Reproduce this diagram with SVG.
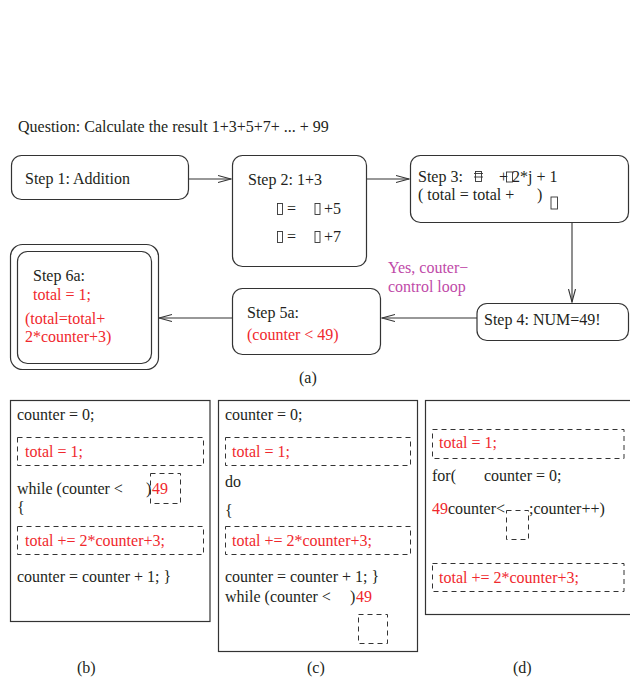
<svg xmlns="http://www.w3.org/2000/svg" width="630" height="679" viewBox="0 0 630 679">
  <style>
    text { font-family: "Liberation Serif", "Times New Roman", serif; font-size: 16px; fill: #231f20; }
    .red { fill: #f0282d; }
    .mag { fill: #c04aa8; }
    .box { fill: #fff; stroke: #333; stroke-width: 1.2; }
    .panel { fill: none; stroke: #333; stroke-width: 1.2; }
    .dash { fill: none; stroke: #333; stroke-width: 1; stroke-dasharray: 5 4; }
    .tofu { fill: none; stroke: #333; stroke-width: 0.9; }
    .conn { fill: none; stroke: #333; stroke-width: 1.1; }
  </style>
  <defs>
    <marker id="open" markerUnits="userSpaceOnUse" viewBox="0 0 14 10" markerWidth="14" markerHeight="10" refX="13" refY="5" orient="auto">
      <path d="M0,1.5 L13,5 L0,8.5" fill="none" stroke="#333" stroke-width="1.1"/>
    </marker>
  </defs>

  <rect width="630" height="679" fill="#fff"/>

  <text x="18" y="132">Question: Calculate the result 1+3+5+7+ ... + 99</text>

  <!-- flow connectors -->
  <g id="connectors">
    <line class="conn" x1="188" y1="179" x2="231" y2="179" marker-end="url(#open)"/>
    <line class="conn" x1="366" y1="179" x2="409" y2="179" marker-end="url(#open)"/>
    <line class="conn" x1="572" y1="222" x2="572" y2="302" marker-end="url(#open)"/>
    <line class="conn" x1="477" y1="318" x2="382" y2="318" marker-end="url(#open)"/>
    <line class="conn" x1="232" y1="318" x2="159" y2="318" marker-end="url(#open)"/>
  </g>

  <g id="step1">
    <rect class="box" x="11.5" y="155.5" width="177" height="44" rx="10"/>
    <text x="25" y="184">Step 1: Addition</text>
  </g>

  <g id="step2">
    <rect class="box" x="232.5" y="155.5" width="134" height="111" rx="10"/>
    <text x="248" y="185">Step 2: 1+3</text>
    <rect class="tofu" x="277.5" y="203.5" width="5" height="11"/>
    <text x="287" y="214">=</text>
    <rect class="tofu" x="315" y="203.5" width="5" height="11"/>
    <text x="324" y="214">+5</text>
    <rect class="tofu" x="277.5" y="231.5" width="5" height="11"/>
    <text x="287" y="242">=</text>
    <rect class="tofu" x="315" y="231.5" width="5" height="11"/>
    <text x="324" y="242">+7</text>
  </g>

  <g id="step3">
    <rect class="box" x="410.5" y="155.5" width="218" height="67" rx="10"/>
    <text x="418" y="182">Step 3:</text>
    <rect class="tofu" x="475.5" y="171.5" width="6" height="10"/>
    <line class="tofu" x1="474" y1="173.5" x2="483" y2="173.5"/>
    <line class="tofu" x1="474" y1="177" x2="483" y2="177"/>
    <text x="499" y="182">+</text>
    <rect class="tofu" x="506.5" y="172" width="6" height="10"/>
    <text x="512" y="182">2*j + 1</text>
    <text x="418" y="200">( total = total +</text>
    <text x="537" y="200">)</text>
    <rect class="tofu" x="551" y="197" width="6.5" height="12"/>
  </g>

  <g id="step4">
    <rect class="box" x="477" y="303.5" width="151.5" height="37" rx="10"/>
    <text x="484" y="325">Step 4: NUM=49!</text>
  </g>

  <g id="loop-label">
    <text class="mag" x="388" y="273">Yes, couter−</text>
    <text class="mag" x="388" y="292">control loop</text>
  </g>

  <g id="step5a">
    <rect class="box" x="232.5" y="288.5" width="148" height="66" rx="10"/>
    <text x="247" y="318">Step 5a:</text>
    <text class="red" x="247" y="340">(counter &lt; 49)</text>
  </g>

  <g id="step6a">
    <rect class="box" x="10.5" y="244.5" width="148" height="125" rx="12"/>
    <rect class="box" x="17.5" y="251.5" width="134" height="112" rx="10"/>
    <text x="33" y="281">Step 6a:</text>
    <text class="red" x="33" y="300">total = 1;</text>
    <text class="red" x="25" y="324">(total=total+</text>
    <text class="red" x="25" y="342">2*counter+3)</text>
  </g>

  <text x="299" y="383">(a)</text>

  <!-- (b) while loop -->
  <g id="panel-b">
    <rect class="panel" x="10.5" y="400.5" width="199.5" height="221"/>
    <text x="17" y="420">counter = 0;</text>
    <rect class="dash" x="17.5" y="437.5" width="186" height="28"/>
    <text class="red" x="25" y="457">total = 1;</text>
    <text x="17" y="494">while (counter &lt;</text>
    <text x="146" y="494">)</text>
    <text class="red" x="152" y="494">49</text>
    <rect class="dash" x="150.5" y="473.5" width="30" height="30"/>
    <text x="17" y="513">{</text>
    <rect class="dash" x="17.5" y="526.5" width="186" height="28"/>
    <text class="red" x="25" y="546">total += 2*counter+3;</text>
    <text x="17" y="582">counter = counter + 1; }</text>
  </g>

  <!-- (c) do-while loop -->
  <g id="panel-c">
    <rect class="panel" x="218.5" y="400.5" width="199" height="251"/>
    <text x="225" y="420">counter = 0;</text>
    <rect class="dash" x="225.5" y="437.5" width="185" height="28"/>
    <text class="red" x="232" y="457">total = 1;</text>
    <text x="225" y="487">do</text>
    <text x="225" y="516">{</text>
    <rect class="dash" x="225.5" y="526.5" width="185" height="28"/>
    <text class="red" x="232" y="546">total += 2*counter+3;</text>
    <text x="225" y="582">counter = counter + 1; }</text>
    <text x="225" y="602">while (counter &lt;</text>
    <text x="350" y="602">)</text>
    <text class="red" x="356" y="602">49</text>
    <rect class="dash" x="358.5" y="614.5" width="29" height="29"/>
  </g>

  <!-- (d) for loop -->
  <g id="panel-d">
    <rect class="panel" x="425.5" y="400.5" width="215" height="214"/>
    <rect class="dash" x="432.5" y="429.5" width="191.5" height="29"/>
    <text class="red" x="439" y="448">total = 1;</text>
    <text x="432" y="481">for(</text>
    <text x="484" y="481">counter = 0;</text>
    <text x="432" y="514"><tspan class="red">49</tspan>counter&lt;</text>
    <rect class="dash" x="506.5" y="510.5" width="22" height="29"/>
    <text x="529" y="514">;counter++)</text>
    <rect class="dash" x="432.5" y="563.5" width="191.5" height="28"/>
    <text class="red" x="439" y="583">total += 2*counter+3;</text>
  </g>

  <text x="77" y="673">(b)</text>
  <text x="307" y="673">(c)</text>
  <text x="513" y="673">(d)</text>
</svg>
